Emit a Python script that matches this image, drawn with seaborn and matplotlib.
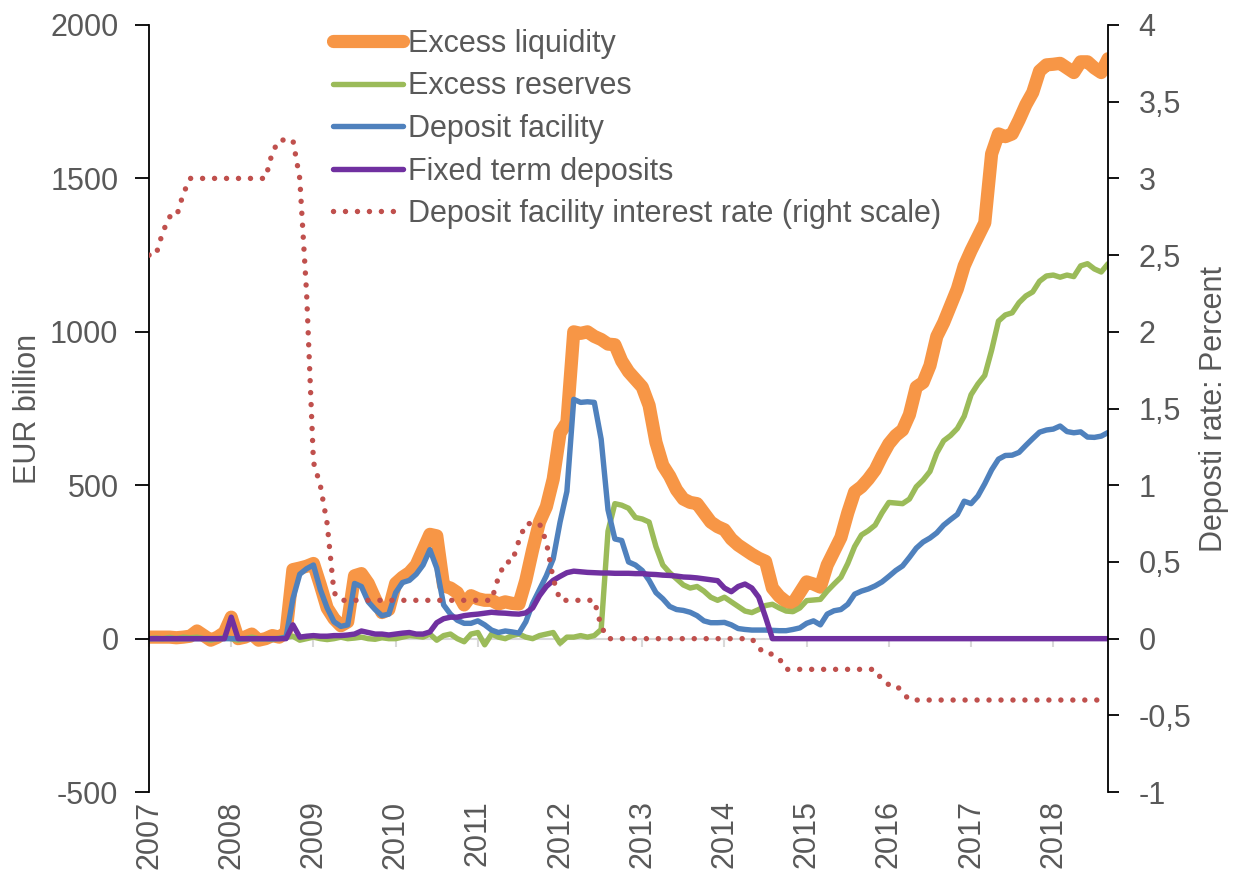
import matplotlib
matplotlib.use("Agg")
import matplotlib.pyplot as plt
import pandas as pd
import seaborn as sns

# monthly observations, Jan 2007 - Sep 2018
months = pd.date_range("2007-01-01", "2018-09-01", freq="MS")
years = list(range(2007, 2019))
year_labels = [str(y) for y in years]

excess_liquidity = [
    5, 5, 5, 5, 3, 5, 8, 25, 10, -5, 5, 20,                          # 2007
    70, 0, 5, 15, -5, 0, 10, 5, 20, 225, 230, 236,                   # 2008
    245, 175, 100, 65, 42, 55, 205, 212, 180, 130, 85, 95,           # 2009
    180, 200, 215, 240, 290, 340, 335, 172, 165, 150, 110, 140,      # 2010
    130, 125, 125, 113, 120, 115, 113, 190, 290, 380, 430, 520,      # 2011
    670, 705, 1000, 995, 1000, 985, 975, 960, 958, 905, 870, 845,    # 2012
    820, 760, 640, 565, 530, 485, 455, 444, 440, 410, 380, 365,      # 2013
    355, 325, 305, 290, 275, 262, 252, 165, 138, 120, 115, 150,      # 2014
    185, 178, 168, 240, 285, 330, 410, 478, 495, 520, 550, 595,      # 2015
    635, 662, 680, 730, 820, 835, 890, 985, 1030, 1085, 1140, 1215,  # 2016
    1265, 1310, 1355, 1580, 1645, 1636, 1645, 1690, 1740, 1780, 1850, 1870,  # 2017
    1872, 1875, 1860, 1845, 1880, 1880, 1860, 1845, 1890,            # 2018
]
excess_reserves = [
    0, 2, 0, 4, 0, 5, 3, 5, 0, -5, 0, 5,
    0, -5, 0, 5, 0, 0, -3, 2, 5, 8, -5, 0,
    5, 0, -3, 0, 5, 0, 2, 5, 0, -2, 3, 0,
    0, 5, 10, 8, 5, 15, -5, 10, 15, 0, -10, 15,
    20, -20, 15, 5, 0, 10, 15, 5, 0, 10, 15, 20,
    -15, 5, 5, 10, 5, 10, 30, 350, 440, 435, 425, 395,
    390, 380, 300, 240, 215, 195, 175, 165, 170, 155, 135, 125,
    135, 120, 105, 90, 85, 95, 108, 112, 100, 90, 88, 100,
    124, 126, 128, 155, 178, 200, 245, 300, 338, 352, 370, 410,
    444, 442, 440, 455, 495, 517, 545, 605, 645, 662, 685, 725,
    795, 830, 858, 940, 1035, 1055, 1062, 1095, 1117, 1130, 1165, 1182,
    1185, 1178, 1185, 1180, 1215, 1222, 1205, 1195, 1222,
]
deposit_facility = [
    0, 0, 0, 0, 0, 0, 0, 0, 0, 0, 0, 0,
    0, 0, 0, 0, 0, 0, 0, 0, 5, 130, 210, 228,
    240, 160, 100, 55, 40, 45, 180, 170, 120, 95, 75, 80,
    150, 183, 190, 210, 240, 290, 230, 110, 80, 60, 50, 50,
    58, 45, 28, 20, 25, 22, 18, 55, 115, 160, 205, 260,
    380, 480, 780, 770, 772, 770, 650, 420, 325, 320, 250, 240,
    222, 190, 150, 130, 105, 95, 92, 86, 75, 58, 52, 52,
    53, 45, 33, 30, 28, 28, 28, 27, 26, 26, 30, 35,
    50, 58, 45, 80, 91, 95, 112, 145, 155, 162, 172, 185,
    203, 222, 237, 265, 295, 315, 328, 345, 370, 388, 405, 448,
    440, 465, 505, 550, 585, 597, 598, 607, 630, 652, 673, 680,
    683, 693, 675, 671, 674, 657, 656, 660, 672,
]
fixed_term = [
    0, 0, 0, 0, 0, 0, 0, 0, 0, 0, 0, 0,
    70, 0, 0, 0, 0, 0, 0, 0, 0, 45, 5, 8,
    10, 8, 8, 10, 10, 12, 15, 25, 20, 15, 15, 12,
    15, 18, 20, 15, 15, 22, 52, 65, 70, 70, 75, 78,
    80, 83, 86, 84, 83, 81, 80, 84, 100, 140, 170, 190,
    203, 215, 220, 218, 216, 215, 214, 214, 213, 213, 213, 212,
    212, 210, 209, 207, 206, 204, 201, 200, 198, 195, 192, 189,
    165, 153, 170, 178, 165, 135, 70, 0, 0, 0, 0, 0,
    0, 0, 0, 0, 0, 0, 0, 0, 0, 0, 0, 0,
    0, 0, 0, 0, 0, 0, 0, 0, 0, 0, 0, 0,
    0, 0, 0, 0, 0, 0, 0, 0, 0, 0, 0, 0,
    0, 0, 0, 0, 0, 0, 0, 0, 0,
]
deposit_rate = [
    2.5, 2.5, 2.65, 2.75, 2.75, 2.9, 3.0, 3.0, 3.0, 3.0, 3.0, 3.0,
    3.0, 3.0, 3.0, 3.0, 3.0, 3.0, 3.17, 3.25, 3.25, 3.25, 3.0, 2.25,
    1.15, 1.0, 0.75, 0.3, 0.25, 0.25, 0.25, 0.25, 0.25, 0.25, 0.25, 0.25,
    0.25, 0.25, 0.25, 0.25, 0.25, 0.25, 0.25, 0.25, 0.25, 0.25, 0.25, 0.25,
    0.25, 0.25, 0.25, 0.4, 0.5, 0.5, 0.64, 0.75, 0.75, 0.75, 0.63, 0.39,
    0.25, 0.25, 0.25, 0.25, 0.25, 0.25, 0.08, 0, 0, 0, 0, 0,
    0, 0, 0, 0, 0, 0, 0, 0, 0, 0, 0, 0,
    0, 0, 0, 0, 0, -0.06, -0.1, -0.1, -0.13, -0.2, -0.2, -0.2,
    -0.2, -0.2, -0.2, -0.2, -0.2, -0.2, -0.2, -0.2, -0.2, -0.2, -0.2, -0.27,
    -0.3, -0.3, -0.35, -0.4, -0.4, -0.4, -0.4, -0.4, -0.4, -0.4, -0.4, -0.4,
    -0.4, -0.4, -0.4, -0.4, -0.4, -0.4, -0.4, -0.4, -0.4, -0.4, -0.4, -0.4,
    -0.4, -0.4, -0.4, -0.4, -0.4, -0.4, -0.4, -0.4, -0.4,
]

TEXT = "#595959"
FS = 22


def main():
    sns.set_style("white")
    plt.rcParams["font.family"] = ["Liberation Sans", "DejaVu Sans"]
    plt.rcParams["font.size"] = FS

    x = months.year + (months.month - 1) / 12

    fig = plt.figure(figsize=(12.4, 8.86), dpi=100)
    ax = fig.add_axes([0.1202, 0.106, 0.7734, 0.8658])
    ax2 = ax.twinx()

    series = [
        (excess_liquidity, "#F79646", 9.5, "Excess liquidity"),
        (excess_reserves, "#9BBB59", 3.9, "Excess reserves"),
        (deposit_facility, "#4F81BD", 3.9, "Deposit facility"),
        (fixed_term, "#7030A0", 3.9, "Fixed term deposits"),
    ]
    for values, color, lw, label in series:
        sns.lineplot(x=x, y=values, ax=ax, color=color, linewidth=lw,
                     label=label, solid_capstyle="round")
    sns.lineplot(x=x, y=deposit_rate, ax=ax2, color="#C0504D", linewidth=3.9,
                 linestyle=(0, (0.01, 2.2)), dash_capstyle="round",
                 label="Deposit facility interest rate (right scale)")

    for a in (ax, ax2):
        if a.get_legend() is not None:
            a.get_legend().remove()

    ax.set_xlim(2007, 2018 + 8 / 12)
    ax.set_ylim(-500, 2000)
    ax2.set_ylim(-1, 4)

    ax.set_yticks(range(-500, 2001, 500))
    ax.set_yticklabels([str(v) for v in range(-500, 2001, 500)])
    rate_ticks = [v / 2 for v in range(-2, 9)]
    ax2.set_yticks(rate_ticks)
    ax2.set_yticklabels([f"{v:g}".replace(".", ",") for v in rate_ticks])

    ax.set_xticks(years)
    ax.set_xticklabels(year_labels, rotation=90)
    ax.tick_params(axis="x", length=0, pad=6, labelcolor=TEXT)
    ax.tick_params(axis="y", length=10, width=1.3, color="black", pad=12,
                   labelcolor=TEXT)
    ax2.tick_params(axis="y", length=8, width=1.3, color="black", pad=14,
                    labelcolor=TEXT)

    for name, sp in ax.spines.items():
        sp.set_visible(name == "left")
    for name, sp in ax2.spines.items():
        sp.set_visible(name == "right")
    ax.spines["left"].set_color("black")
    ax.spines["left"].set_linewidth(1.3)
    ax2.spines["right"].set_color("black")
    ax2.spines["right"].set_linewidth(1.3)

    # category axis crossing at zero, with year tick marks
    zero = ax.secondary_xaxis(0.2)
    zero.set_xticks(years)
    zero.tick_params(axis="x", length=6, width=1.5, color="#d9d9d9",
                     labelbottom=False, direction="out")
    zero.spines["bottom"].set_color("#d9d9d9")
    zero.spines["bottom"].set_linewidth(1.5)

    ax.set_xlabel("")
    ax.set_ylabel("EUR billion", color=TEXT)
    ax.yaxis.set_label_coords(-0.1105, 0.5)
    ax2.set_ylabel("Deposti rate: Percent", color=TEXT)
    ax2.yaxis.set_label_coords(1.095, 0.5)

    handles = ax.get_lines()[:4] + ax2.get_lines()[:1]
    labels = [h.get_label() for h in handles]
    ax2.legend(handles, labels, loc="upper left",
               bbox_to_anchor=(0.2685, 0.9673), bbox_transform=fig.transFigure,
               frameon=False, borderpad=0, borderaxespad=0,
               handlelength=2.3, handletextpad=0.17, labelspacing=0.41,
               labelcolor=TEXT, fontsize=FS)

    fig.savefig("out.png", dpi=100)


if __name__ == "__main__":
    main()
